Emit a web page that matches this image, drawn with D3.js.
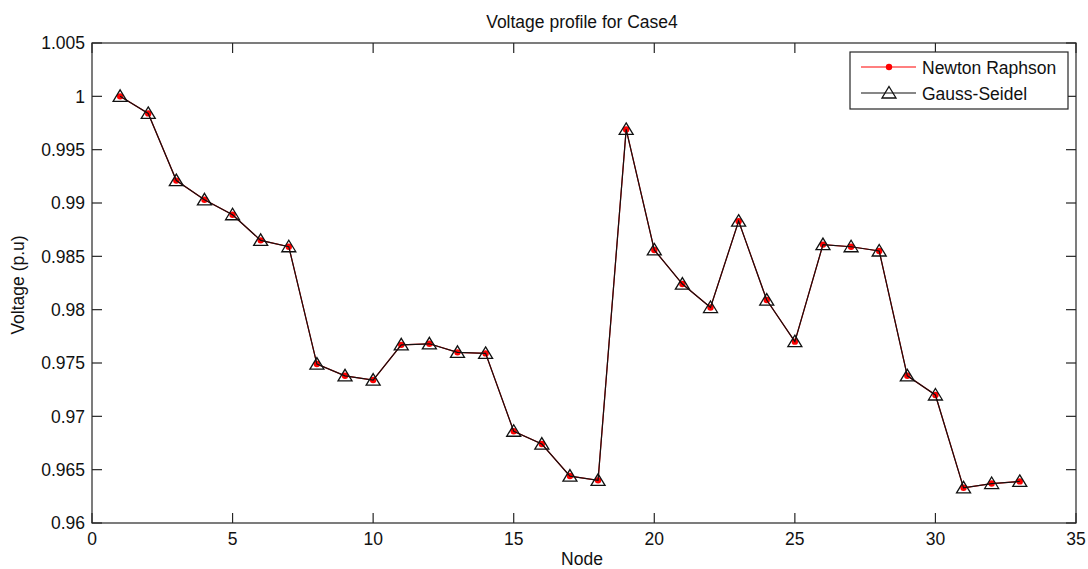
<!DOCTYPE html>
<html lang="en">

<head>
    <meta charset="UTF-8">
    <title>Voltage profile for Case4</title>
    <script src="https://d3js.org/d3.v7.min.js"></script>
    <style>
        body {
            margin: 0;
            background: #fff;
        }

        text {
            font-family: Arial, "Liberation Sans", sans-serif;
            font-size: 17.5px;
            fill: #111;
        }

        .frame {
            fill: none;
            stroke: #262626;
            stroke-width: 1.2;
        }

        .tick {
            stroke: #262626;
            stroke-width: 1.2;
        }
    </style>
</head>

<body>
    <script>
        // node numbers and bus voltages (p.u.)
        var nodes = [1, 2, 3, 4, 5, 6, 7, 8, 9, 10, 11, 12, 13, 14, 15, 16, 17,
            18, 19, 20, 21, 22, 23, 24, 25, 26, 27, 28, 29, 30, 31, 32, 33];
        var newtonRaphson = [1.0000, 0.9984, 0.9921, 0.9903, 0.9889, 0.9865, 0.9859,
            0.9749, 0.9738, 0.9734, 0.9767, 0.9768, 0.9760, 0.9759, 0.9686, 0.9674,
            0.9644, 0.9640, 0.9969, 0.9856, 0.9824, 0.9802, 0.9883, 0.9809, 0.9770,
            0.9861, 0.9859, 0.9855, 0.9738, 0.9720, 0.9633, 0.9637, 0.9639];
        var gaussSeidel = [1.0000, 0.9984, 0.9921, 0.9903, 0.9889, 0.9865, 0.9859,
            0.9749, 0.9738, 0.9734, 0.9767, 0.9768, 0.9760, 0.9759, 0.9686, 0.9674,
            0.9644, 0.9640, 0.9969, 0.9856, 0.9824, 0.9802, 0.9883, 0.9809, 0.9770,
            0.9861, 0.9859, 0.9855, 0.9738, 0.9720, 0.9633, 0.9637, 0.9639];
        var xTicks = [0, 5, 10, 15, 20, 25, 30, 35];
        var yTicks = [0.96, 0.965, 0.97, 0.975, 0.98, 0.985, 0.99, 0.995, 1, 1.005];
        var seriesNames = ["Newton Raphson", "Gauss-Seidel"];

        var W = 1088, H = 569;
        var pLeft = 92, pRight = 1076, pTop = 43, pBottom = 523;

        var svg = d3.select("body").append("svg")
            .attr("width", W).attr("height", H);

        var x = d3.scaleLinear().domain([0, 35]).range([pLeft, pRight]);
        var y = d3.scaleLinear().domain([0.96, 1.005]).range([pBottom, pTop]);

        var tickLen = 10;
        var fmt = function(d) { return String(+d.toFixed(3)); };

        // ticks (inward, all four sides)
        var ticks = svg.append("g");
        xTicks.forEach(function(t) {
            ticks.append("line").attr("class", "tick")
                .attr("x1", x(t)).attr("x2", x(t))
                .attr("y1", pBottom).attr("y2", pBottom - tickLen);
            ticks.append("line").attr("class", "tick")
                .attr("x1", x(t)).attr("x2", x(t))
                .attr("y1", pTop).attr("y2", pTop + tickLen);
            svg.append("text")
                .attr("x", x(t)).attr("y", 545)
                .attr("text-anchor", "middle")
                .text(t);
        });
        yTicks.forEach(function(t) {
            ticks.append("line").attr("class", "tick")
                .attr("x1", pLeft).attr("x2", pLeft + tickLen)
                .attr("y1", y(t)).attr("y2", y(t));
            ticks.append("line").attr("class", "tick")
                .attr("x1", pRight).attr("x2", pRight - tickLen)
                .attr("y1", y(t)).attr("y2", y(t));
            svg.append("text")
                .attr("x", pLeft - 7).attr("y", y(t))
                .attr("dy", "0.36em")
                .attr("text-anchor", "end")
                .text(fmt(t));
        });

        svg.append("rect").attr("class", "frame")
            .attr("x", pLeft).attr("y", pTop)
            .attr("width", pRight - pLeft).attr("height", pBottom - pTop);

        // labels
        svg.append("text")
            .attr("x", (pLeft + pRight) / 2 - 2).attr("y", 28)
            .attr("text-anchor", "middle")
            .text("Voltage profile for Case4");
        svg.append("text")
            .attr("x", (pLeft + pRight) / 2 - 2).attr("y", 565)
            .attr("text-anchor", "middle")
            .text("Node");
        svg.append("text")
            .attr("transform", "translate(24,285) rotate(-90)")
            .attr("text-anchor", "middle")
            .text("Voltage (p.u)");

        var line = d3.line()
            .x(function(d) { return x(d[0]); })
            .y(function(d) { return y(d[1]); });

        var nrData = d3.zip(nodes, newtonRaphson);
        var gsData = d3.zip(nodes, gaussSeidel);

        var triangle = "M0,-6.5L7,5L-7,5Z";

        // Newton Raphson: red line with dots
        svg.append("path").datum(nrData)
            .attr("d", line)
            .attr("fill", "none").attr("stroke", "#ff0000").attr("stroke-width", 1.2);
        svg.append("g").selectAll("circle").data(nrData).enter().append("circle")
            .attr("cx", function(d) { return x(d[0]); })
            .attr("cy", function(d) { return y(d[1]); })
            .attr("r", 3.2)
            .attr("fill", "#ff0000");

        // Gauss-Seidel: black line with open triangles
        svg.append("path").datum(gsData)
            .attr("d", line)
            .attr("fill", "none").attr("stroke", "#111").attr("stroke-width", 1.2);
        svg.append("g").selectAll("path").data(gsData).enter().append("path")
            .attr("d", triangle)
            .attr("transform", function(d) {
                return "translate(" + x(d[0]) + "," + y(d[1]) + ")";
            })
            .attr("fill", "none").attr("stroke", "#111").attr("stroke-width", 1.3);

        // legend
        var lg = svg.append("g");
        lg.append("rect")
            .attr("x", 850).attr("y", 52)
            .attr("width", 218).attr("height", 57)
            .attr("fill", "#fff").attr("stroke", "#262626").attr("stroke-width", 1.2);
        var rows = [67, 93];
        seriesNames.forEach(function(name, i) {
            var ly = rows[i];
            lg.append("line")
                .attr("x1", 861).attr("x2", 916)
                .attr("y1", ly).attr("y2", ly)
                .attr("stroke", i === 0 ? "#ff0000" : "#111")
                .attr("stroke-width", 1.2);
            if (i === 0) {
                lg.append("circle").attr("cx", 889).attr("cy", ly)
                    .attr("r", 3.2).attr("fill", "#ff0000");
            } else {
                lg.append("path").attr("d", triangle)
                    .attr("transform", "translate(889," + ly + ")")
                    .attr("fill", "none").attr("stroke", "#111").attr("stroke-width", 1.3);
            }
            lg.append("text")
                .attr("x", 922).attr("y", ly + 7)
                .text(name);
        });
    </script>
</body>

</html>
